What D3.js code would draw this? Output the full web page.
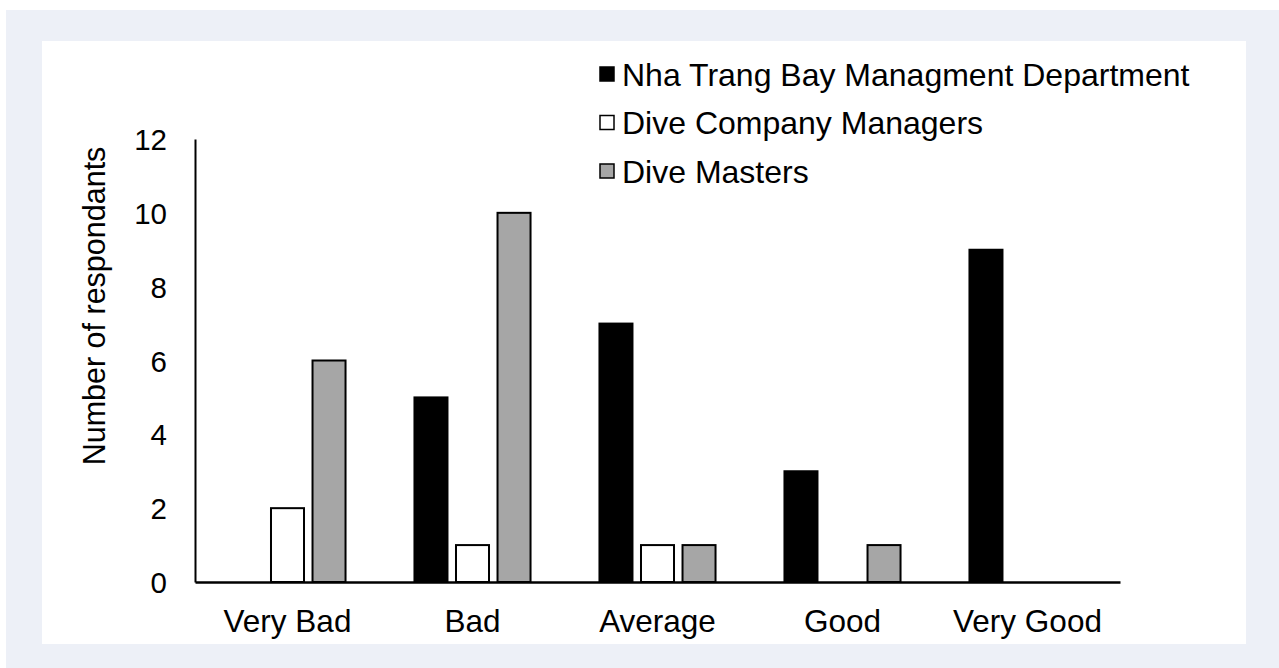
<!DOCTYPE html>
<html>
<head>
<meta charset="utf-8">
<script src="https://cdn.jsdelivr.net/npm/d3@7"></script>
<style>
  html, body { margin: 0; padding: 0; background: #ffffff; }
  svg { display: block; }
  text { font-family: "Liberation Sans", Arial, sans-serif; fill: #000; }
</style>
</head>
<body>
<svg id="chart" width="1279" height="668"></svg>
<script>
// Survey ratings by respondent group
const categories = ["Very Bad", "Bad", "Average", "Good", "Very Good"];
const seriesNames = ["Nha Trang Bay Managment Department", "Dive Company Managers", "Dive Masters"];
const managementDept = [0, 5, 7, 3, 9];
const diveCompanyManagers = [2, 1, 1, 0, 0];
const diveMasters = [6, 10, 1, 1, 0];
const yTicks = [0, 2, 4, 6, 8, 10, 12];
const seriesColors = ["#000000", "#ffffff", "#a6a6a6"];

const seriesValues = [managementDept, diveCompanyManagers, diveMasters];

const svg = d3.select("#chart");

// page frame and white chart panel
svg.append("rect").attr("x", 6).attr("y", 10).attr("width", 1273).attr("height", 658).attr("fill", "#edf0f7");
svg.append("rect").attr("x", 42).attr("y", 41).attr("width", 1204).attr("height", 603).attr("fill", "#ffffff");

const plot = { left: 195, right: 1120, top: 139, bottom: 582 };

const x0 = d3.scaleBand().domain(categories).range([plot.left, plot.right]).padding(0);
const x1 = d3.scaleBand().domain(seriesNames).range([0, x0.bandwidth()])
  .paddingInner(0.205).paddingOuter(0.83);
const y = d3.scaleLinear().domain([0, 12]).range([plot.bottom, plot.top]);

// bars
const rows = [];
categories.forEach((c, i) => {
  seriesNames.forEach((s, j) => {
    rows.push({ category: c, series: s, value: seriesValues[j][i], color: seriesColors[j] });
  });
});

svg.append("g").selectAll("rect")
  .data(rows.filter(d => d.value > 0))
  .join("rect")
  .attr("x", d => x0(d.category) + x1(d.series))
  .attr("y", d => y(d.value))
  .attr("width", x1.bandwidth())
  .attr("height", d => y(0) - y(d.value))
  .attr("fill", d => d.color)
  .attr("stroke", "#000")
  .attr("stroke-width", 2);

// y axis
const yAxis = svg.append("g").attr("transform", `translate(${plot.left},0)`)
  .call(d3.axisLeft(y).tickValues(yTicks).tickSize(0).tickPadding(28));
yAxis.select(".domain").attr("stroke", "#000").attr("stroke-width", 2);
yAxis.selectAll("text").style("font-size", "29.5px").style("font-family", "Liberation Sans, Arial, sans-serif")
  .attr("dy", "0.36em");

// x axis
const xAxis = svg.append("g").attr("transform", `translate(0,${plot.bottom})`)
  .call(d3.axisBottom(x0).tickSize(0).tickPadding(0));
xAxis.select(".domain").attr("stroke", "#000").attr("stroke-width", 2.5);
xAxis.selectAll("text").style("font-size", "31.5px").style("font-family", "Liberation Sans, Arial, sans-serif")
  .attr("dy", null).attr("y", 50);

// y axis title
svg.append("text")
  .attr("transform", "translate(105,306) rotate(-90)")
  .attr("text-anchor", "middle")
  .style("font-size", "30.5px")
  .text("Number of respondants");

// legend
const legend = svg.append("g").selectAll("g")
  .data(seriesNames)
  .join("g")
  .attr("transform", (d, i) => `translate(600,${74 + i * 48.5})`);
legend.append("rect")
  .attr("x", 0).attr("y", -7).attr("width", 14).attr("height", 14)
  .attr("fill", (d, i) => seriesColors[i])
  .attr("stroke", "#000").attr("stroke-width", 1.5);
legend.append("text")
  .attr("x", 22).attr("y", 0).attr("dy", "0.36em")
  .style("font-size", "32px")
  .text(d => d);
</script>
</body>
</html>
